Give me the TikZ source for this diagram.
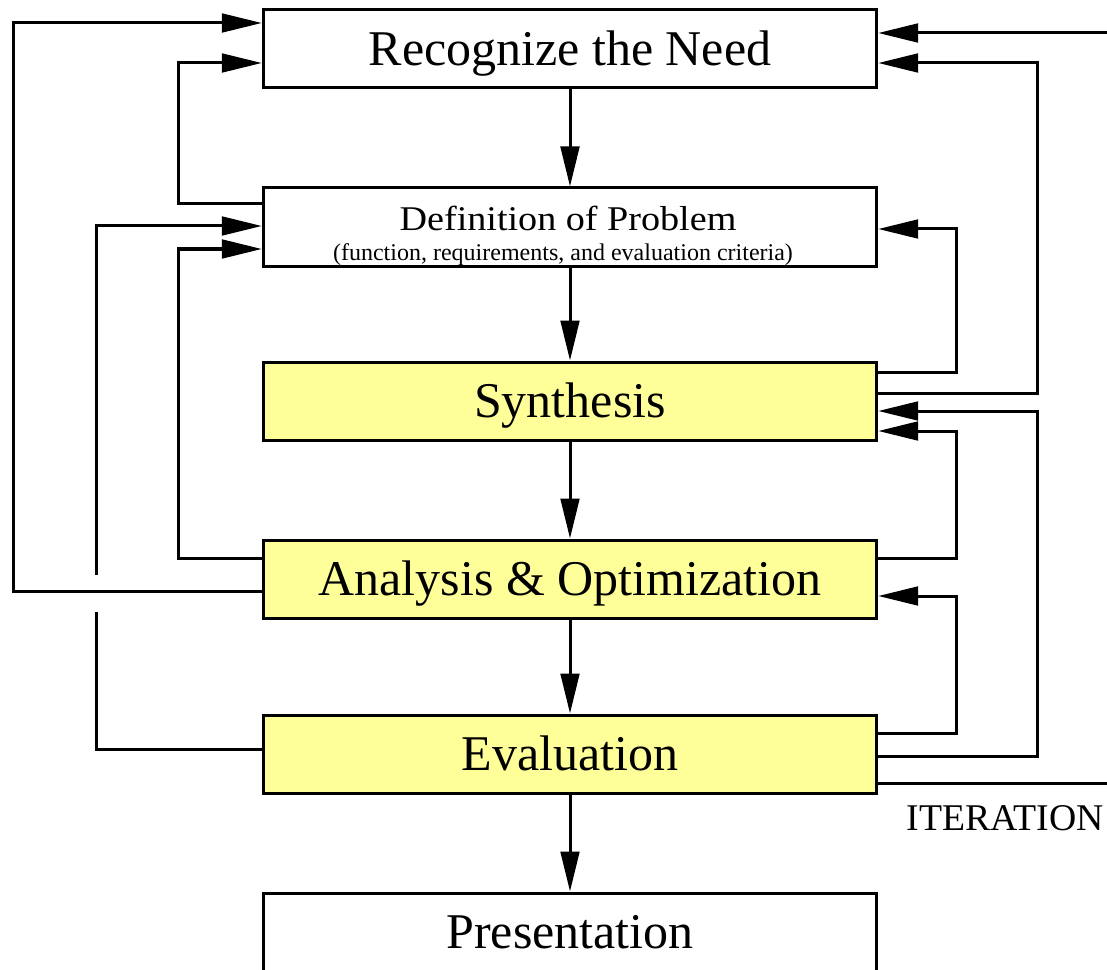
\documentclass[tikz,border=0pt]{standalone}
\usepackage{fontspec}
\setmainfont{Liberation Serif}
\usetikzlibrary{arrows.meta}
\definecolor{boxyellow}{HTML}{FFFF99}
\begin{document}
\begin{tikzpicture}[x=0.75pt,y=-0.75pt,
  line width=2.25pt,
  stagebox/.style={draw=black, line width=2.25pt, rectangle, minimum width=460pt, minimum height=58.5pt,
    inner sep=0pt, text height=25pt, text depth=0pt, font=\fontsize{37.5}{40}\selectfont},
  hilite/.style={fill=boxyellow},
  arr/.style={-{Triangle[length=30pt,width=14pt]}},
  ln/.style={line width=2.25pt}]
\useasboundingbox (0,0) rectangle (1107,970);
\fill[white] (0,0) rectangle (1107,970);

% stage boxes
\node[stagebox] (rec) at (570,49) {Recognize the Need};
\node[stagebox] (def) at (570,227) {};
\node[anchor=base, font=\fontsize{26}{28}\selectfont, inner sep=0pt] (deftitle) at (568,231) {\scalebox{1.1}[1]{Definition of Problem}};
\node[anchor=base, font=\fontsize{18}{20}\selectfont, inner sep=0pt] (defsub) at (563,260) {(function, requirements, and evaluation criteria)};
\node[stagebox,hilite] (syn) at (570,401) {Synthesis};
\node[stagebox,hilite] (ana) at (570,579) {Analysis \& Optimization};
\node[stagebox,hilite] (eva) at (570,754) {Evaluation};
\node[stagebox] (pre) at (570,932) {Presentation};

\node[anchor=base west, inner sep=0pt, font=\fontsize{28.3}{30}\selectfont] (iter) at (905,830) {ITERATION};

% main downward flow
\draw[arr] (rec.south) -- (def.north);
\draw[arr] (def.south) -- (syn.north);
\draw[arr] (syn.south) -- (ana.north);
\draw[arr] (ana.south) -- (eva.north);
\draw[arr] (eva.south) -- (pre.north);

% left side feedback loops
\draw[arr] (ana.west |- 0,591) -- (13,591) -- (13,23) -- (rec.west |- 0,23);
\draw[arr] (def.west |- 0,204) -- (178,204) -- (178,63) -- (rec.west |- 0,63);
\draw[ln] (eva.west |- 0,749) -- (96,749) -- (96,612);
\draw[arr] (96,575) -- (96,226) -- (def.west |- 0,226);
\draw[arr] (ana.west |- 0,558) -- (178,558) -- (178,249) -- (def.west |- 0,249);

% right side feedback loops
\coordinate (edgetop) at (1108,33);
\coordinate (edgebot) at (1108,783);
\draw[arr] (edgetop) -- (rec.east |- edgetop);
\draw[arr] (syn.east |- 0,393) -- (1037,393) -- (1037,63) -- (rec.east |- 0,63);
\draw[arr] (syn.east |- 0,372) -- (956,372) -- (956,229) -- (def.east |- 0,229);
\draw[arr] (eva.east |- 0,756) -- (1037,756) -- (1037,411) -- (syn.east |- 0,411);
\draw[arr] (ana.east |- 0,558) -- (956,558) -- (956,431) -- (syn.east |- 0,431);
\draw[arr] (eva.east |- 0,733) -- (956,733) -- (956,596) -- (ana.east |- 0,596);
\draw[ln] (eva.east |- edgebot) -- (edgebot);
\end{tikzpicture}
\end{document}
